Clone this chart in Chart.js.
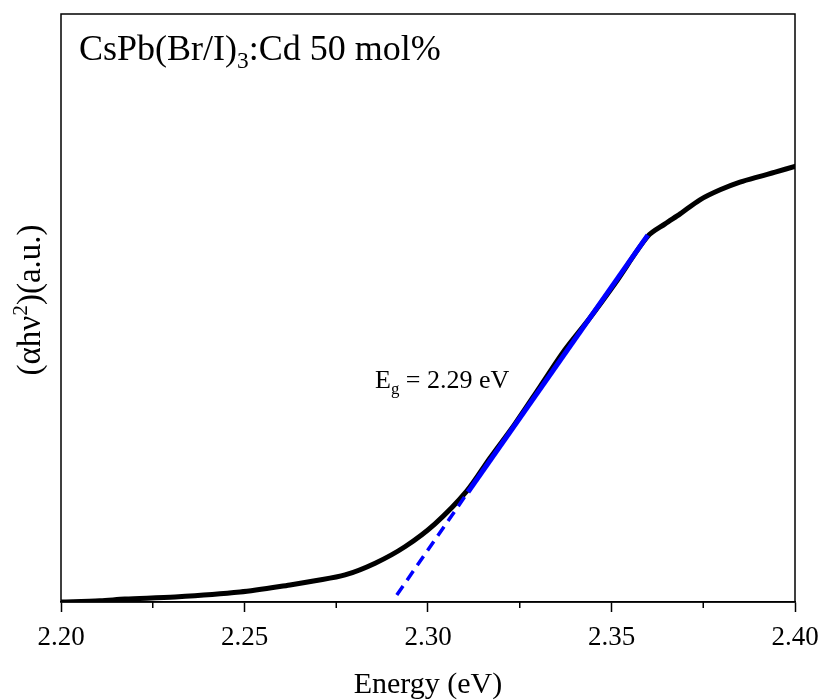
<!DOCTYPE html>
<html>
<head>
<meta charset="utf-8">
<script src="https://cdn.jsdelivr.net/npm/chart.js@4.4.0/dist/chart.umd.min.js"></script>
<style>
  html, body { margin: 0; padding: 0; background: #fff; }
  #wrap { width: 820px; height: 700px; position: relative; }
</style>
</head>
<body>
<div id="wrap"><canvas id="chart"></canvas></div>
<script>
// absorption curve (Tauc plot)
const energy = [2.200, 2.2106, 2.2174, 2.2311, 2.2488, 2.2624, 2.2692, 2.2774, 2.2856, 2.2937,
    2.3019, 2.3106, 2.3169, 2.3237, 2.3305, 2.3373, 2.3441, 2.3510, 2.3599, 2.3646,
    2.3687, 2.3741, 2.3796, 2.3850, 2.3905, 2.3946, 2.400];
const absorb = [0.000, 0.002, 0.005, 0.0085, 0.017, 0.029, 0.036, 0.046, 0.066, 0.094,
    0.133, 0.189, 0.245, 0.303, 0.366, 0.429, 0.483, 0.542, 0.622, 0.643,
    0.660, 0.684, 0.701, 0.714, 0.724, 0.731, 0.741];

// linear fit and its extrapolation to the baseline
const fitEnergy = [2.3109, 2.3599];
const fitValues = [0.187, 0.624];
const extEnergy = [2.2915, 2.3109];
const extValues = [0.012, 0.187];

const xTicks = [2.20, 2.25, 2.30, 2.35, 2.40];
const xMinorTicks = [2.225, 2.275, 2.325, 2.375];

const serif = '"Liberation Serif", "Times New Roman", serif';

function pts(xs, ys) {
    return xs.map((x, i) => ({ x: x, y: ys[i] }));
}

// draws text runs with sub/superscripts, left aligned at baseline
function richText(ctx, parts, x, y, size) {
    let cx = x;
    parts.forEach(p => {
        let fs = size, dy = 0;
        if (p.sub) { fs = size * 0.65; dy = size * 0.22; }
        if (p.sup) { fs = size * 0.65; dy = -size * 0.38; }
        ctx.font = fs + 'px ' + serif;
        ctx.fillText(p.t, cx, y + dy);
        cx += ctx.measureText(p.t).width;
    });
    return cx - x;
}

function richWidth(ctx, parts, size) {
    let w = 0;
    parts.forEach(p => {
        let fs = (p.sub || p.sup) ? size * 0.65 : size;
        ctx.font = fs + 'px ' + serif;
        w += ctx.measureText(p.t).width;
    });
    return w;
}

const decor = {
    id: 'decor',
    afterDraw(chart) {
        const ctx = chart.ctx;
        const a = chart.chartArea;
        const xs = chart.scales.x;
        ctx.save();
        // frame
        ctx.strokeStyle = '#000';
        ctx.lineWidth = 1.5;
        ctx.strokeRect(a.left, a.top, a.right - a.left, a.bottom - a.top);
        // minor ticks
        xMinorTicks.forEach(v => {
            const px = xs.getPixelForValue(v);
            ctx.beginPath();
            ctx.moveTo(px, a.bottom);
            ctx.lineTo(px, a.bottom + 6);
            ctx.stroke();
        });

        ctx.fillStyle = '#000';
        ctx.textBaseline = 'alphabetic';
        ctx.textAlign = 'left';
        // sample label
        richText(ctx, [{ t: 'CsPb(Br/I)' }, { t: '3', sub: true }, { t: ':Cd 50 mol%' }], 79, 60, 36);
        // band gap label
        richText(ctx, [{ t: 'E' }, { t: 'g', sub: true }, { t: ' = 2.29 eV' }], 375, 388, 26);

        // x axis title
        ctx.font = '30px ' + serif;
        ctx.textAlign = 'center';
        ctx.fillText('Energy (eV)', (a.left + a.right) / 2, 693);

        // y axis title
        const yParts = [{ t: '(\u03b1h\u03bd' }, { t: '2', sup: true }, { t: ')(a.u.)' }];
        ctx.textAlign = 'left';
        ctx.translate(40, 300);
        ctx.rotate(-Math.PI / 2);
        const w = richWidth(ctx, yParts, 33);
        richText(ctx, yParts, -w / 2, 0, 33);
        ctx.restore();
    }
};

new Chart(document.getElementById('chart'), {
    type: 'line',
    data: {
        datasets: [
            {
                data: pts(fitEnergy, fitValues),
                borderColor: '#0000ff',
                borderWidth: 5,
                pointRadius: 0,
                tension: 0
            },
            {
                data: pts(extEnergy, extValues),
                borderColor: '#0000ff',
                borderWidth: 3.5,
                borderDash: [11, 7],
                pointRadius: 0,
                tension: 0
            },
            {
                data: pts(energy, absorb),
                borderColor: '#000000',
                borderWidth: 5,
                pointRadius: 0,
                tension: 0.3,
                borderCapStyle: 'round',
                borderJoinStyle: 'round'
            }
        ]
    },
    options: {
        responsive: true,
        maintainAspectRatio: false,
        animation: false,
        layout: { padding: { top: 14, right: 25, left: 0, bottom: 0 } },
        plugins: {
            legend: { display: false },
            tooltip: { enabled: false }
        },
        scales: {
            x: {
                type: 'linear',
                min: 2.2,
                max: 2.4,
                afterFit: s => { s.height = 98; s.paddingLeft = 0; s.paddingRight = 0; },
                afterBuildTicks: s => { s.ticks = xTicks.map(v => ({ value: v })); },
                grid: { drawOnChartArea: false, tickLength: 10, tickColor: '#000', tickWidth: 1.5 },
                border: { color: '#000', width: 1.5 },
                ticks: {
                    color: '#000',
                    padding: 10,
                    font: { family: serif, size: 27 },
                    callback: v => v.toFixed(2)
                }
            },
            y: {
                min: 0,
                max: 1,
                afterFit: s => { s.width = 61; },
                grid: { display: false },
                border: { display: false },
                ticks: { display: false }
            }
        }
    },
    plugins: [decor]
});
</script>
</body>
</html>
